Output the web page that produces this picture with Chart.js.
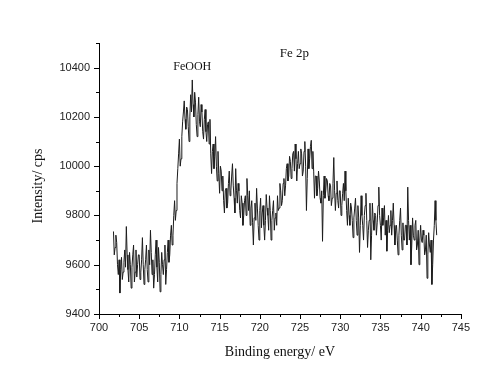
<!DOCTYPE html>
<html>
<head>
<meta charset="utf-8">
<title>Fe 2p XPS</title>
<script src="https://cdn.jsdelivr.net/npm/chart.js@4.4.1/dist/chart.umd.min.js"></script>
<style>
    html, body { margin: 0; padding: 0; background: #fff; }
    #xps { display: block; }
</style>
</head>
<body>
<canvas id="xps" width="477" height="371"></canvas>
<script>
// Binding energy grid (eV): first point and step
const energyStart = 701.8;
const energyStep = 0.1;

// Intensity (cps), one row per eV
const intensity = [
    9735, 9640,                                                        // 701.8
    9670, 9720, 9690, 9600, 9560, 9620, 9485, 9580, 9630, 9540,        // 702
    9570, 9610, 9660, 9590, 9755, 9640, 9580, 9530, 9650, 9600,        // 703
    9505, 9590, 9640, 9680, 9530, 9570, 9660, 9550, 9600, 9640,        // 704
    9640, 9540, 9570, 9620, 9710, 9600, 9520, 9580, 9620, 9680,        // 705
    9580, 9530, 9660, 9600, 9740, 9650, 9560, 9620, 9505, 9560,        // 706
    9640, 9700, 9590, 9530, 9670, 9610, 9490, 9560, 9650, 9600,        // 707
    9560, 9620, 9680, 9520, 9580, 9650, 9700, 9610, 9640, 9720,        // 708
    9760, 9680, 9720, 9800, 9860, 9780, 9820, 9930, 9990, 10050,       // 709
    10110, 10000, 10030, 10120, 10180, 10220, 10265, 10190, 10150, 10240, // 710
    10230, 10160, 10100, 10200, 10290, 10220, 10350, 10250, 10200, 10300, // 711
    10260, 10170, 10120, 10210, 10280, 10180, 10160, 10250, 10220, 10140, // 712
    10110, 10190, 10230, 10140, 10100, 10170, 10180, 10090, 10190, 10050, // 713
    9970, 10060, 10090, 9990, 10040, 10120, 10000, 9940, 10060, 9970,  // 714
    9890, 10000, 9980, 9900, 9960, 9860, 9810, 9900, 9910, 9830,       // 715
    9850, 9930, 9980, 9880, 9900, 9960, 10010, 9920, 9870, 9810,       // 716
    9990, 9900, 9850, 9930, 9900, 9820, 9790, 9880, 9850, 9760,        // 717
    9800, 9860, 9880, 9800, 9950, 9880, 9820, 9900, 9760, 9830,        // 718
    9860, 9770, 9680, 9790, 9850, 9780, 9910, 9830, 9760, 9700,        // 719
    9820, 9870, 9750, 9810, 9840, 9760, 9700, 9780, 9885, 9830,        // 720
    9800, 9740, 9880, 9820, 9700, 9780, 9820, 9860, 9740, 9790,        // 721
    9810, 9760, 9880, 9820, 9830, 9930, 9900, 9840, 9860, 9930,        // 722
    9950, 9880, 9920, 9990, 10010, 9940, 9960, 10040, 10020, 9950,     // 723
    9990, 10050, 10060, 9980, 10090, 10030, 9940, 10010, 10060, 9990,  // 724
    10010, 10070, 10050, 9960, 9980, 10060, 10100, 10000, 9820, 9950,  // 725
    10070, 9990, 10030, 10080, 10105, 9990, 10060, 9980, 9870, 9960,   // 726
    9960, 9880, 9910, 9980, 9940, 9870, 9850, 9900, 9695, 9880,        // 727
    9960, 9870, 9900, 9950, 9940, 9880, 9860, 9930, 9920, 9840,        // 728
    9870, 9930, 10035, 9900, 9820, 9890, 9940, 9860, 9830, 9900,       // 729
    9900, 9800, 9840, 9890, 9930, 9860, 9980, 9900, 9820, 9760,        // 730
    9870, 9800, 9760, 9850, 9830, 9780, 9710, 9790, 9830, 9870,        // 731
    9780, 9720, 9840, 9790, 9650, 9760, 9880, 9800, 9760, 9700,        // 732
    9800, 9840, 9890, 9780, 9670, 9740, 9780, 9850, 9620, 9720,        // 733
    9850, 9780, 9740, 9810, 9800, 9720, 9770, 9840, 9915, 9800,        // 734
    9760, 9700, 9830, 9760, 9790, 9840, 9720, 9780, 9655, 9740,        // 735
    9800, 9730, 9760, 9820, 9720, 9780, 9850, 9760, 9680, 9740,        // 736
    9760, 9700, 9640, 9720, 9780, 9830, 9720, 9660, 9770, 9700,        // 737
    9700, 9760, 9760, 9680, 9915, 9780, 9700, 9760, 9600, 9680,        // 738
    9790, 9720, 9700, 9760, 9780, 9660, 9680, 9740, 9600, 9700,        // 739
    9760, 9700, 9690, 9740, 9720, 9640, 9660, 9720, 9545, 9640,        // 740
    9730, 9680, 9650, 9700, 9520, 9600, 9700, 9760, 9860, 9780,        // 741
    9720                                                               // 742
];

// Axis ranges and steps
const xRange = [700, 745];
const xMajor = 5;
const xMinor = 2.5;
const yRange = [9400, 10500];
const yMajor = 200;
const yMinor = 100;

// Text labels placed in data coordinates [eV, cps]
const peakLabels = [
    { text: 'FeOOH', at: [711.6, 10404], size: 12 },
    { text: 'Fe 2p', at: [724.3, 10457], size: 13 }
];

const serif = "'Liberation Serif', 'Times New Roman', serif";
const sans = "'Liberation Sans', Arial, sans-serif";

const points = intensity.map((v, i) => ({
    x: Math.round((energyStart + i * energyStep) * 10) / 10,
    y: v
}));

// outward tick marks (major long, minor short), y title and peak labels
const decorPlugin = {
    id: 'decor',
    afterDraw(chart) {
        const ctx = chart.ctx;
        const area = chart.chartArea;
        const xs = chart.scales.x;
        const ys = chart.scales.y;
        ctx.save();
        ctx.strokeStyle = '#000';
        ctx.lineWidth = 1;
        ctx.beginPath();
        xs.ticks.forEach(t => {
            const px = Math.round(xs.getPixelForValue(t.value)) + 0.5;
            const len = t.value % xMajor === 0 ? 5 : 3;
            ctx.moveTo(px, area.bottom);
            ctx.lineTo(px, area.bottom + len);
        });
        ys.ticks.forEach(t => {
            const py = Math.round(ys.getPixelForValue(t.value)) + 0.5;
            const len = t.value % yMajor === 0 ? 5 : 3;
            ctx.moveTo(area.left, py);
            ctx.lineTo(area.left - len, py);
        });
        ctx.stroke();

        ctx.fillStyle = '#111';
        ctx.textAlign = 'center';
        ctx.textBaseline = 'middle';

        // y-axis title
        ctx.save();
        ctx.translate(38, 186);
        ctx.rotate(-Math.PI / 2);
        ctx.font = '14px ' + serif;
        ctx.fillText('Intensity/ cps', 0, 0);
        ctx.restore();

        peakLabels.forEach(l => {
            ctx.font = l.size + 'px ' + serif;
            ctx.fillText(l.text, xs.getPixelForValue(l.at[0]), ys.getPixelForValue(l.at[1]));
        });
        ctx.restore();
    }
};

new Chart(document.getElementById('xps'), {
    type: 'line',
    data: {
        datasets: [{
            label: 'Fe 2p',
            data: points,
            borderColor: '#1c1c1c',
            borderWidth: 1,
            pointRadius: 0,
            tension: 0,
            fill: false
        }]
    },
    options: {
        responsive: false,
        animation: false,
        events: [],
        layout: {
            padding: { top: 43, right: 12, left: 0, bottom: 0 }
        },
        plugins: {
            legend: { display: false },
            tooltip: { enabled: false }
        },
        scales: {
            x: {
                type: 'linear',
                min: xRange[0],
                max: xRange[1],
                afterFit: s => { s.height = 57; },
                grid: { display: false, drawTicks: false, tickLength: 0 },
                border: { display: true, color: '#000', width: 1 },
                ticks: {
                    stepSize: xMinor,
                    autoSkip: false,
                    maxRotation: 0,
                    padding: 7,
                    color: '#222',
                    font: { family: sans, size: 11 },
                    callback: v => (v % xMajor === 0 ? String(v) : '')
                },
                title: {
                    display: true,
                    text: 'Binding energy/ eV',
                    color: '#111',
                    font: { family: serif, size: 14 },
                    padding: { top: 0, bottom: 10 }
                }
            },
            y: {
                min: yRange[0],
                max: yRange[1],
                afterFit: s => { s.width = 99; },
                grid: { display: false, drawTicks: false, tickLength: 0 },
                border: { display: true, color: '#000', width: 1 },
                ticks: {
                    stepSize: yMinor,
                    autoSkip: false,
                    padding: 9,
                    color: '#222',
                    font: { family: sans, size: 11 },
                    callback: v => (v % yMajor === 0 && v <= 10400 ? String(v) : '')
                }
            }
        }
    },
    plugins: [decorPlugin]
});
</script>
</body>
</html>
